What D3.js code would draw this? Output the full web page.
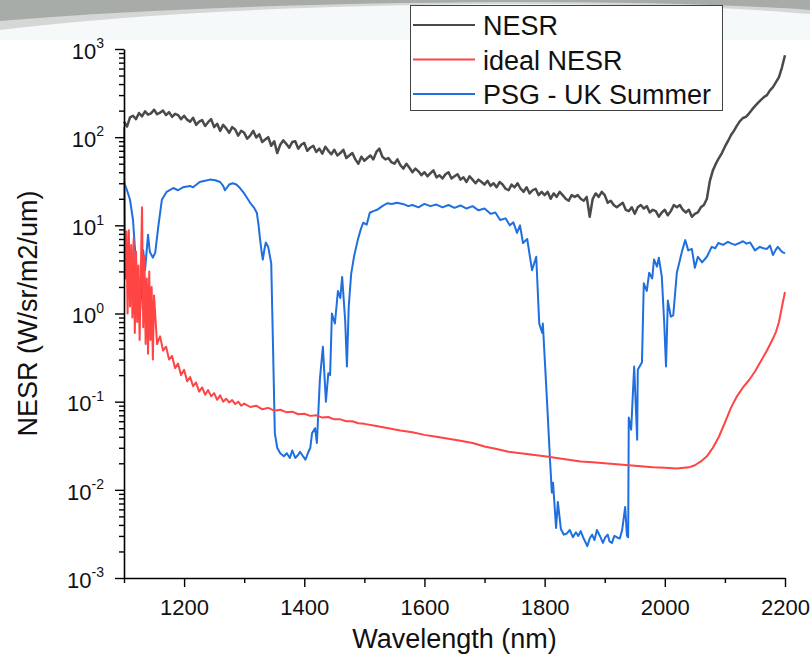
<!DOCTYPE html>
<html>
<head>
<meta charset="utf-8">
<script src="https://cdn.jsdelivr.net/npm/d3@7"></script>
<style>
  body { margin: 0; background: #fff; }
  svg { display: block; font-family: "Liberation Sans", Arial, sans-serif; }
</style>
</head>
<body>
<div id="chart"></div>
<script>
// NESR (gray), 5 nm steps from 1100 to 2200
const nesrStart = 1100, nesrStep = 5;
const nesrValues = [
  150,132,168,175,160,188,172,196,180,186,205,182,190,200,178,192,170,184,178,160,
  175,158,150,166,138,150,156,134,148,160,130,142,118,138,126,112,130,122,104,118,
  112,96,104,118,99,108,88,94,100,80,90,66,82,92,84,76,88,90,74,82,
  86,70,76,80,68,74,65,78,70,64,72,62,66,72,58,62,66,56,50,60,
  54,58,62,56,68,74,60,56,58,52,50,56,48,44,50,45,40,44,41,37,
  40,36,39,42,35,37,34,38,40,34,36,38,33,35,31,36,33,30,33,31,
  29,32,28,30,27,31,29,26,25,29,27,30,26,24,27,23,25,26,22,24,
  22,24,20,23,21,24,22,20,19,22,21,22,20,19,21,12.5,20,23,21,24,
  22,18,19,17,16,17,18,15,14.5,16,13.5,16,17,15.5,16.5,14,15,14.5,12.5,14,
  15,13,14.5,17,16,17,15,14,15,12.5,13.5,14,16,17,20,32,42,50,58,66,
  78,90,105,118,135,152,165,170,185,205,225,245,265,285,300,340,370,420,480,620,
  850
];

// ideal NESR (red)
const idealWl = [
  1100,1102,1104,1106,1108,1110,1112,1114,1116,1118,1120,1122,1124,1126,1128,1130,
  1132,1134,1136,1138,1140,1142,1144,1146,1148,1150,1155,1160,1165,1170,1175,1180,
  1185,1190,1195,1200,1205,1210,1215,1220,1225,1230,1235,1240,1245,1250,1255,1260,
  1265,1270,1275,1280,1285,1290,1295,1300,1310,1320,1330,1340,1350,1360,1370,1380,
  1390,1400,1410,1420,1430,1440,1450,1460,1470,1480,1490,1500,1520,1540,1560,1580,
  1600,1620,1640,1660,1680,1700,1720,1740,1760,1780,1800,1820,1840,1860,1880,1900,
  1920,1940,1960,1980,2000,2020,2040,2050,2060,2070,2080,2090,2100,2110,2120,2130,
  2140,2150,2160,2170,2180,2185,2190,2195,2200
];
const idealValues = [
  130,2.5,8.5,1.0,8.8,1.2,6.0,0.9,7.0,0.6,5.0,0.8,3.5,0.5,3.0,16,
  0.7,4.5,0.45,2.5,0.35,3.0,0.5,2.0,0.3,1.6,0.45,0.55,0.38,0.42,0.3,0.33,
  0.24,0.27,0.2,0.23,0.17,0.19,0.15,0.165,0.13,0.145,0.12,0.135,0.115,0.125,0.105,0.118,
  0.1,0.108,0.098,0.104,0.094,0.1,0.09,0.095,0.087,0.09,0.082,0.085,0.079,0.081,0.076,0.077,
  0.072,0.073,0.069,0.07,0.066,0.067,0.063,0.063,0.06,0.06,0.057,0.056,0.053,0.05,0.047,0.045,
  0.042,0.04,0.038,0.036,0.034,0.031,0.029,0.027,0.026,0.025,0.024,0.023,0.022,0.021,0.0205,0.02,
  0.0195,0.019,0.0185,0.018,0.0178,0.0175,0.018,0.019,0.021,0.024,0.03,0.04,0.058,0.085,0.115,0.145,
  0.175,0.22,0.29,0.38,0.52,0.62,0.8,1.2,1.75
];

// PSG - UK Summer (blue)
const psgWl = [
  1100,1105,1110,1115,1118,1122,1127,1130,1132,1135,1140,1143,1148,1152,1157,1163,
  1171,1182,1190,1198,1210,1215,1226,1235,1243,1252,1260,1265,1268,1275,1281,1287,
  1293,1300,1310,1316,1321,1324,1326,1329,1331,1334,1336,1340,1345,1348,1351,1355,
  1360,1366,1371,1376,1380,1385,1390,1393,1398,1402,1406,1410,1413,1418,1421,1426,
  1431,1436,1440,1443,1446,1451,1456,1460,1463,1468,1471,1474,1478,1483,1489,1494,
  1498,1504,1509,1515,1521,1530,1538,1546,1554,1564,1573,1580,1590,1600,1610,1620,
  1630,1640,1650,1660,1670,1680,1690,1700,1710,1718,1726,1735,1742,1748,1754,1759,
  1764,1771,1779,1786,1791,1796,1797,1804,1809,1812,1814,1819,1822,1827,1832,1837,
  1842,1847,1852,1856,1860,1864,1871,1875,1879,1883,1887,1892,1897,1901,1905,1908,
  1912,1916,1920,1925,1929,1934,1937,1939,1940,1944,1949,1954,1955,1962,1965,1970,
  1974,1979,1982,1987,1990,1995,1999,2002,2005,2010,2014,2020,2029,2034,2039,2045,
  2050,2055,2062,2070,2078,2084,2089,2097,2105,2111,2117,2124,2130,2136,2142,2150,
  2158,2164,2170,2175,2180,2184,2188,2195,2200
];
const psgValues = [
  31,25,19.5,11.5,5.7,2.6,1.1,2.4,5.2,3.1,7.8,5,4.3,4.9,9.6,19.5,
  24,26.5,25,27,28,27,31,32,33,32.5,31,28,25,29,30,29,
  26.5,23,18,16,13.9,10,7.4,5,4.1,5.5,6.4,5.7,3.7,0.42,0.044,0.03,
  0.026,0.024,0.026,0.023,0.028,0.023,0.025,0.027,0.024,0.022,0.026,0.03,0.044,0.05,0.034,0.18,
  0.42,0.1,0.21,0.2,1.0,0.77,1.8,1.5,2.6,0.85,0.25,1.2,2.8,4.5,6.8,9,
  10.7,10.2,13.9,14.5,15,16.5,17.8,17.5,18,17.5,16.5,17,16,17.5,16.5,17.2,
  16,17,15.8,16.8,15.5,16.5,14.8,15.5,13.5,14,11.5,12,10,10.8,8.2,10,
  6.3,7,3.1,4.4,0.77,0.6,0.77,0.1,0.0215,0.0093,0.012,0.0037,0.0073,0.0036,0.0031,0.0032,
  0.0035,0.0029,0.0033,0.003,0.0034,0.0029,0.0023,0.0028,0.0031,0.0027,0.0035,0.003,0.0025,0.0029,0.0031,0.0026,
  0.0025,0.003,0.0029,0.0028,0.0035,0.0064,0.003,0.0029,0.066,0.048,0.25,0.037,0.23,0.28,2.2,1.8,
  2.9,2.5,4.1,3.4,4.3,2.6,0.78,0.25,1.4,0.92,0.95,2.9,5.2,6.8,5.2,5.4,
  3.3,4.4,3.8,4.4,5.7,5.5,6.3,6,6.5,6.2,6,6.3,6.6,6.2,6.4,5.2,
  5.7,5.5,5.4,5.9,4.6,5.2,5.7,5.0,4.8
];

const yMajor = [1e-3, 1e-2, 1e-1, 1e0, 1e1, 1e2, 1e3];
const xMajor = [1200, 1400, 1600, 1800, 2000, 2200];
const xMinor = [1100, 1300, 1500, 1700, 1900, 2100];

const seriesNames = ["NESR", "ideal NESR", "PSG - UK Summer"];
const seriesColors = ["#4a4a4a", "#ff4444", "#1f6fe0"];

const W = 810, H = 662;
const margin = {top: 49, right: 25, bottom: 84, left: 124};

const svg = d3.select("#chart").append("svg")
  .attr("width", W)
  .attr("height", H);

// slide decoration at the top
svg.append("rect").attr("width", W).attr("height", 40).attr("fill", "#f6f9fa");
svg.append("path")
  .attr("d", "M0,0 L810,0 L810,14 Q700,4 500,4 Q200,6 0,30 Z")
  .attr("fill", "#d4d7d5");
svg.append("path")
  .attr("d", "M0,0 L810,0 L810,10 Q700,2 500,2 Q200,4 0,21 Z")
  .attr("fill", "#a8aca9");

const x = d3.scaleLinear()
  .domain([1100, 2200])
  .range([margin.left, W - margin.right]);

const y = d3.scaleLog()
  .domain([1e-3, 1e3])
  .range([H - margin.bottom, margin.top]);

const nesr = nesrValues.map((v, i) => ({wl: nesrStart + i * nesrStep, v}));
const ideal = idealWl.map((wl, i) => ({wl, v: idealValues[i]}));
const psg = psgWl.map((wl, i) => ({wl, v: psgValues[i]}));

const line = d3.line()
  .x(d => x(d.wl))
  .y(d => y(d.v));

// blue first, then red, gray on top
[[psg, 2], [ideal, 1], [nesr, 0]].forEach(([data, k]) => {
  svg.append("path")
    .datum(data)
    .attr("fill", "none")
    .attr("stroke", seriesColors[k])
    .attr("stroke-width", k === 0 ? 2.5 : 2)
    .attr("stroke-linejoin", "round")
    .attr("d", line);
});

// Y axis: minor ticks
const yMinor = [];
for (let e = -3; e < 3; e++) {
  for (let m = 2; m <= 9; m++) yMinor.push(m * Math.pow(10, e));
}
svg.append("g")
  .attr("transform", `translate(${margin.left},0)`)
  .call(d3.axisLeft(y).tickValues(yMinor).tickSize(5).tickFormat(""))
  .call(g => g.select(".domain").remove())
  .selectAll("line").attr("stroke-width", 1.4);

// Y axis: major ticks + labels
const yAxisG = svg.append("g")
  .attr("transform", `translate(${margin.left},0)`)
  .call(d3.axisLeft(y).tickValues(yMajor).tickSize(9).tickSizeOuter(0).tickPadding(11).tickFormat(() => "10"));
yAxisG.select(".domain").attr("stroke-width", 1.6);
yAxisG.selectAll("line").attr("stroke-width", 1.4);
yAxisG.selectAll("text")
  .attr("font-size", 22)
  .attr("fill", "#111")
  .attr("dy", "0.42em")
  .append("tspan")
  .attr("font-size", 14)
  .attr("dy", "-0.75em")
  .text(d => Math.round(Math.log10(d)));

// X axis: minor ticks
svg.append("g")
  .attr("transform", `translate(0,${H - margin.bottom})`)
  .call(d3.axisBottom(x).tickValues(xMinor).tickSize(5).tickFormat(""))
  .call(g => g.select(".domain").remove())
  .selectAll("line").attr("stroke-width", 1.4);

// X axis: major ticks + labels
const xAxisG = svg.append("g")
  .attr("transform", `translate(0,${H - margin.bottom})`)
  .call(d3.axisBottom(x).tickValues(xMajor).tickSize(9).tickSizeOuter(0).tickPadding(12).tickFormat(d3.format("d")));
xAxisG.select(".domain").attr("stroke-width", 1.6);
xAxisG.selectAll("line").attr("stroke-width", 1.4);
xAxisG.selectAll("text").attr("font-size", 22).attr("fill", "#111");

// axis titles
svg.append("text")
  .attr("x", (margin.left + W - margin.right) / 2)
  .attr("y", 648)
  .attr("text-anchor", "middle")
  .attr("font-size", 27)
  .attr("fill", "#111")
  .text("Wavelength (nm)");

svg.append("text")
  .attr("transform", `translate(37,${(margin.top + H - margin.bottom) / 2}) rotate(-90)`)
  .attr("text-anchor", "middle")
  .attr("font-size", 27)
  .attr("fill", "#111")
  .text("NESR (W/sr/m2/um)");

// legend
const legend = svg.append("g");
legend.append("rect")
  .attr("x", 410.5).attr("y", 5.5)
  .attr("width", 312).attr("height", 105)
  .attr("fill", "#fff")
  .attr("stroke", "#444")
  .attr("stroke-width", 1);

seriesNames.forEach((name, i) => {
  const ly = 25 + i * 34.5;
  legend.append("line")
    .attr("x1", 413).attr("x2", 475)
    .attr("y1", ly).attr("y2", ly)
    .attr("stroke", seriesColors[i])
    .attr("stroke-width", 2);
  legend.append("text")
    .attr("x", 483).attr("y", ly + 10)
    .attr("font-size", 27)
    .attr("fill", "#111")
    .text(name);
});
</script>
</body>
</html>
